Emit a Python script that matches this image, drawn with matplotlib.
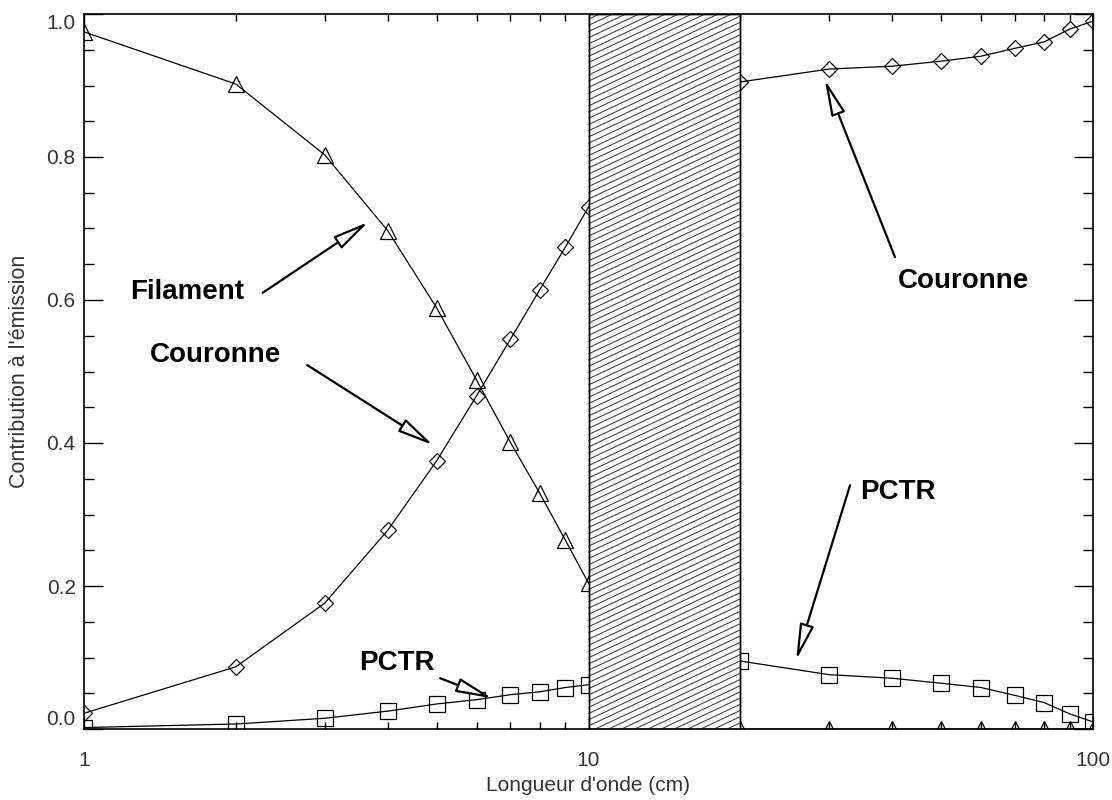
import numpy as np
import matplotlib.pyplot as plt
from matplotlib.collections import LineCollection

plt.rcParams['font.family'] = ['Liberation Sans', 'DejaVu Sans']

# Wavelength grid (cm) and fractional contribution of each component
wavelength = [1, 2, 3, 4, 5, 6, 7, 8, 9, 10,
              20, 30, 40, 50, 60, 70, 80, 90, 100]
filament = [0.975, 0.902, 0.803, 0.697, 0.589, 0.488, 0.401, 0.330, 0.264, 0.204,
            0.0, 0.0, 0.0, 0.0, 0.0, 0.0, 0.0, 0.0, 0.0]
couronne = [0.022, 0.087, 0.176, 0.278, 0.375, 0.466, 0.545, 0.614, 0.674, 0.730,
            0.905, 0.923, 0.927, 0.934, 0.941, 0.952, 0.961, 0.979, 0.990]
pctr = [0.002, 0.007, 0.015, 0.025, 0.035, 0.041, 0.048, 0.052, 0.058, 0.062,
        0.095, 0.076, 0.071, 0.064, 0.058, 0.047, 0.037, 0.021, 0.010]

# Excluded band (cm)
band = (10, 20)

# label, text position, arrow tail, arrow tip (data coordinates)
notes = [
    ('Filament', (1.60, 0.611), (2.26, 0.610), (3.66, 0.709)),
    ('Couronne', (1.82, 0.523), (2.77, 0.509), (4.92, 0.397)),
    ('Couronne', (55.3, 0.627), (40.5, 0.660), (29.4, 0.908)),
    ('PCTR', (41.1, 0.331), (33.0, 0.341), (25.8, 0.0965)),
    ('PCTR', (4.17, 0.092), (5.08, 0.071), (6.44, 0.043)),
]

fig = plt.figure(figsize=(11.12, 8), dpi=100)
ax = fig.add_axes([84 / 1112, 71 / 800, 1009 / 1112, 715 / 800])

ax.set_xscale('log')
ax.set_xlim(1, 100)
ax.set_ylim(0, 1)

style = dict(color='black', lw=0.9, mfc='none', mec='black', mew=0.9, zorder=2)
ax.plot(wavelength, filament, marker='^', ms=11, **style)
ax.plot(wavelength, couronne, marker='D', ms=8.5, **style)
ax.plot(wavelength, pctr, marker='s', ms=11, **style)

# white band with shallow hatching drawn on top of the curves
span = ax.axvspan(*band, facecolor='white', edgecolor='black', lw=1.0, zorder=3)
to_axes = ax.transData + ax.transAxes.inverted()
xa0, xa1 = to_axes.transform([(band[0], 0.5), (band[1], 0.5)])[:, 0]
slope = 0.47 * (1009 / 715)
step = 6.2 / 715
offsets = np.arange(-slope * (xa1 - xa0), 1.0 + step, step)
segs = [[(xa0, c), (xa1, c + slope * (xa1 - xa0))] for c in offsets]
hatch = LineCollection(segs, colors='#3a3a3a', linewidths=0.75,
                       transform=ax.transAxes, zorder=3.5)
hatch.set_clip_path(span)
ax.add_collection(hatch)
ax.add_patch(plt.Rectangle((band[0], 0), band[1] - band[0], 1, fill=False,
                           edgecolor='black', lw=1.0, zorder=3.6))

for label, txt, tail, tip in notes:
    ax.annotate('', xy=tip, xytext=tail,
                arrowprops=dict(arrowstyle='-|>,head_length=1.1,head_width=0.22',
                                mutation_scale=20, fc='white', ec='black',
                                lw=1.6, shrinkA=0, shrinkB=0),
                zorder=4)
    ax.text(*txt, label, fontsize=20, fontweight='bold', ha='center',
            va='center', zorder=4)

ax.set_yticks(np.arange(0, 1.01, 0.2))
ax.set_yticks(np.arange(0, 1.001, 0.05), minor=True)
ax.yaxis.set_major_formatter(plt.FormatStrFormatter('%.1f'))
ax.set_xticks([1, 10, 100])
ax.set_xticklabels(['1', '10', '100'])

ax.tick_params(which='both', direction='in', top=True, right=True,
               width=1, color='black', labelsize=15, labelcolor='#333333')
ax.tick_params(axis='x', which='major', length=9, pad=16)
ax.tick_params(axis='x', which='minor', length=5)
ax.tick_params(axis='y', which='major', length=14, pad=6)
ax.tick_params(axis='y', which='minor', length=7)

yticks = ax.yaxis.get_major_ticks()
yticks[0].label1.set_va('bottom')
yticks[-1].label1.set_va('top')

for sp in ax.spines.values():
    sp.set_linewidth(1.2)
    sp.set_zorder(5)

ax.set_xlabel("Longueur d'onde (cm)", fontsize=15, color='#333333', labelpad=4)
ax.set_ylabel("Contribution à l'émission", fontsize=15.5, color='#333333', labelpad=12)

fig.savefig('out.png', dpi=100)
